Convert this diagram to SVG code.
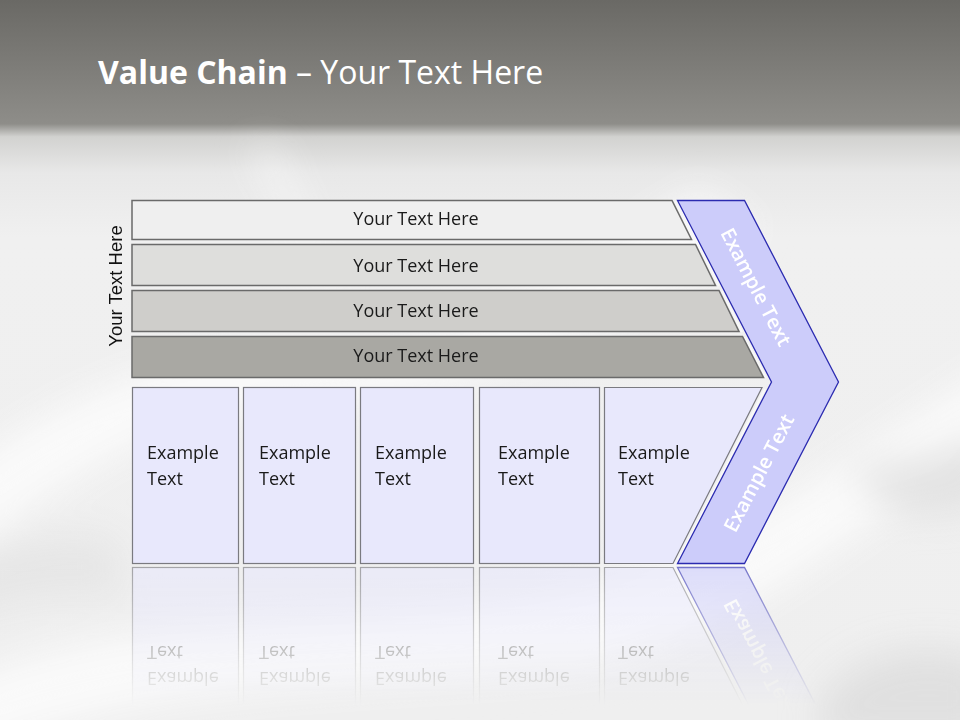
<svg xmlns="http://www.w3.org/2000/svg" width="960" height="720" viewBox="0 0 960 720">
<style>
.bar{stroke:#6a6a6a;stroke-width:1.5}
.hl{fill:none;stroke:#f8f8f8;stroke-width:2}
.box{fill:#e8e8fc;stroke:#7a7a80;stroke-width:1.2}
.bt{font-family:"Open Sans","Noto Sans",sans-serif;font-size:18px;fill:#1a1a1a}
.bart{font-family:"Open Sans","Noto Sans",sans-serif;font-size:18px;fill:#1a1a1a;text-anchor:middle}
.cht{font-family:"Open Sans","Noto Sans",sans-serif;font-size:20px;font-weight:600;fill:#ffffff;text-anchor:middle}
</style>
<defs>
<linearGradient id="bg" x1="0" y1="0" x2="0" y2="720" gradientUnits="userSpaceOnUse">
<stop offset="0" stop-color="#6a6965"/>
<stop offset="0.172" stop-color="#8e8d89"/>
<stop offset="0.19" stop-color="#d2d2d0"/>
<stop offset="0.24" stop-color="#e8e8e8"/>
<stop offset="0.33" stop-color="#f0f0f0"/>
<stop offset="1" stop-color="#efefef"/>
</linearGradient>
<filter id="blur" x="-50%" y="-50%" width="200%" height="200%"><feGaussianBlur stdDeviation="18"/></filter>
<linearGradient id="fade" x1="0" y1="565" x2="0" y2="705" gradientUnits="userSpaceOnUse">
<stop offset="0" stop-color="#fff" stop-opacity="0.65"/>
<stop offset="1" stop-color="#fff" stop-opacity="0"/>
</linearGradient>
<mask id="refl" maskUnits="userSpaceOnUse" x="0" y="565" width="960" height="155">
<rect x="0" y="565" width="960" height="155" fill="url(#fade)"/>
</mask>
</defs>

<g id="background">
<rect x="0" y="0" width="960" height="720" fill="url(#bg)"/>
<g filter="url(#blur)">
<path d="M-40 470 C 80 380, 200 340, 330 350 C 450 360, 560 270, 700 190 L 760 230 C 620 320, 480 400, 330 400 C 200 400, 90 460, -40 560 Z" fill="#f9f9f9"/>
<path d="M-40 680 C 150 600, 350 630, 560 590 C 720 560, 850 450, 1000 360 L 1000 440 C 860 520, 740 650, 560 670 C 350 690, 150 680, -40 760 Z" fill="#f9f9f9"/>
<path d="M850 470 C 880 520, 940 520, 990 500 L 990 430 C 940 460, 890 460, 850 470 Z" fill="#dedede" opacity="0.8"/>
<path d="M820 700 C 860 650, 920 640, 990 660 L 990 740 L 820 740 Z" fill="#dcdcdc" opacity="0.8"/>
<path d="M-40 560 C 20 540, 60 530, 120 540 L 120 600 C 60 590, 20 600, -40 620 Z" fill="#e2e2e2" opacity="0.7"/>
<path d="M250 150 C 280 200, 300 240, 310 300 L 330 300 C 320 240, 300 190, 270 150 Z" fill="#f6f6f6"/>
</g>
</g>

<g id="title">
<text x="98" y="84" font-family="'Open Sans','Noto Sans',sans-serif" font-size="32px" fill="#ffffff"><tspan font-weight="bold">Value Chain</tspan> – Your Text Here</text>
</g>

<g id="side-label">
<text transform="translate(122,286) rotate(-90)" text-anchor="middle" font-family="'Liberation Sans',Arial,sans-serif" font-size="18.5px" fill="#111111">Your Text Here</text>
</g>

<g id="bar1">
<line class="hl" x1="675" y1="201" x2="695" y2="240"/>
<polygon class="bar" points="132,200.5 672,200.5 691.5,239.5 132,239.5" fill="#efefef"/>
<text class="bart" x="416" y="225">Your Text Here</text>
</g>
<g id="bar2">
<line class="hl" x1="699" y1="245" x2="719" y2="286"/>
<polygon class="bar" points="132,244.5 695.5,244.5 715.5,285.5 132,285.5" fill="#dededc"/>
<text class="bart" x="416" y="272">Your Text Here</text>
</g>
<g id="bar3">
<line class="hl" x1="722" y1="291" x2="742" y2="332"/>
<polygon class="bar" points="132,290.5 719,290.5 739,331.5 132,331.5" fill="#cfcecb"/>
<text class="bart" x="416" y="317">Your Text Here</text>
</g>
<g id="bar4">
<line class="hl" x1="745" y1="337" x2="766" y2="378"/>
<polygon class="bar" points="132,336.5 742.5,336.5 763.5,377.5 132,377.5" fill="#a9a8a3"/>
<text class="bart" x="416" y="362">Your Text Here</text>
</g>

<g id="box1">
<rect class="box" x="132.5" y="387.5" width="106" height="176"/>
<text class="bt" x="147" y="459">Example</text>
<text class="bt" x="147" y="485">Text</text>
</g>
<g id="box2">
<rect class="box" x="243.5" y="387.5" width="112" height="176"/>
<text class="bt" x="259" y="459">Example</text>
<text class="bt" x="259" y="485">Text</text>
</g>
<g id="box3">
<rect class="box" x="360.5" y="387.5" width="113" height="176"/>
<text class="bt" x="375" y="459">Example</text>
<text class="bt" x="375" y="485">Text</text>
</g>
<g id="box4">
<rect class="box" x="479.5" y="387.5" width="120" height="176"/>
<text class="bt" x="498" y="459">Example</text>
<text class="bt" x="498" y="485">Text</text>
</g>
<g id="box5">
<line class="hl" x1="765" y1="389" x2="676" y2="565"/>
<polygon class="box" points="604.5,387.5 762,387.5 673,563.5 604.5,563.5"/>
<text class="bt" x="618" y="459">Example</text>
<text class="bt" x="618" y="485">Text</text>
</g>

<g id="chevron">
<polygon points="677.5,200.5 744.5,200.5 838.5,382 744.5,563.5 677.5,563.5 771.5,382" fill="#ccccfa" stroke="#2b2bb0" stroke-width="1.3" stroke-linejoin="miter"/>
<text class="cht" transform="translate(756,287) rotate(62.6)" dy="7">Example Text</text>
<text class="cht" transform="translate(759,473) rotate(-62.6)" dy="7">Example Text</text>
</g>

<g id="reflection" mask="url(#refl)">
<g transform="translate(0,1131) scale(1,-1)">
<use href="#box1"/>
<use href="#box2"/>
<use href="#box3"/>
<use href="#box4"/>
<use href="#box5"/>
<use href="#chevron"/>
</g>
</g>
</svg>
